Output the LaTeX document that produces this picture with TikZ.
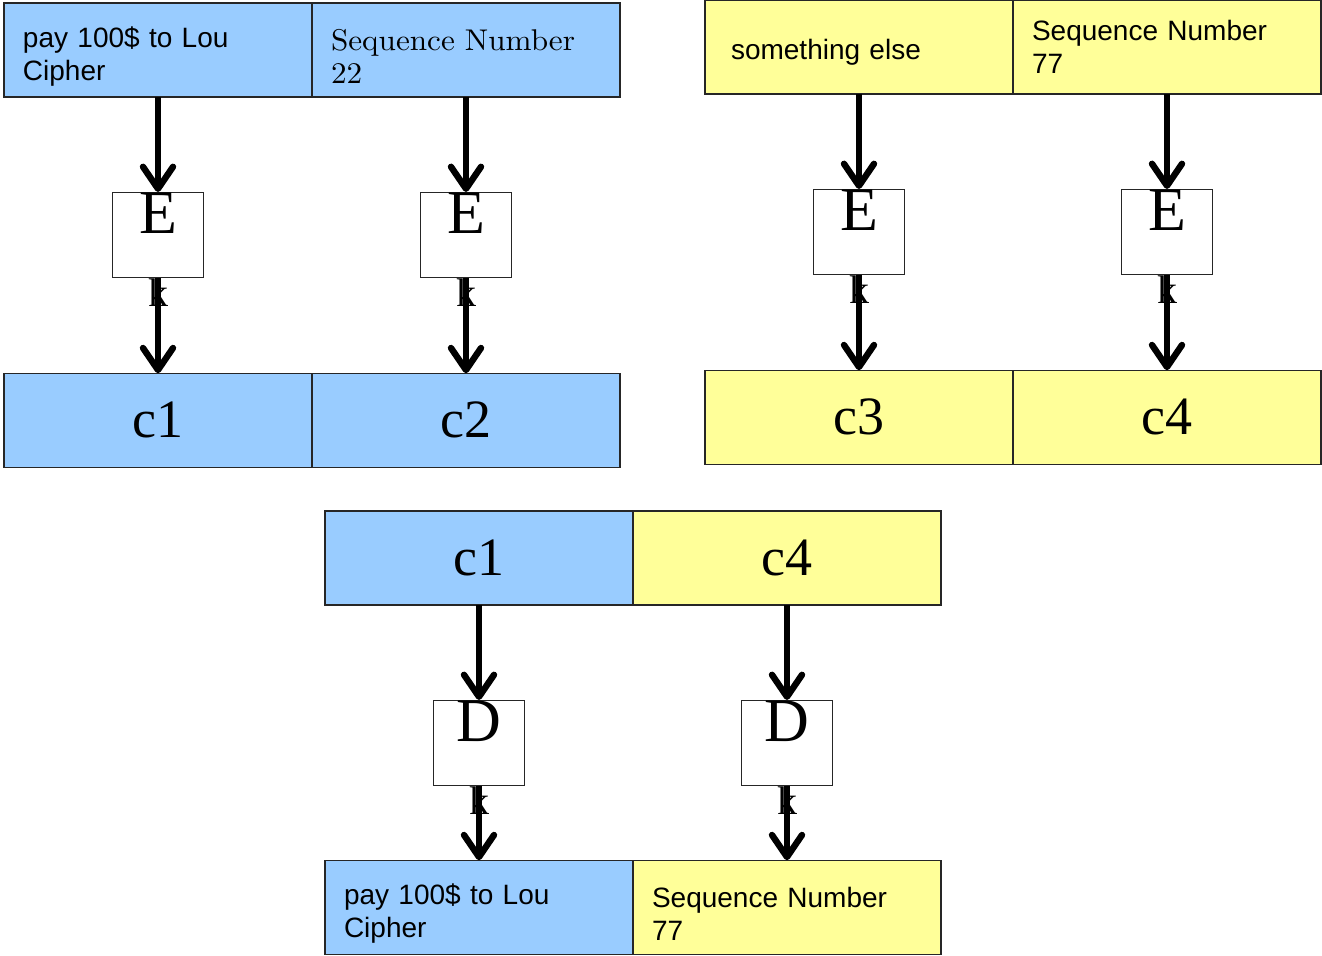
\documentclass[tikz,border=0pt]{standalone}
\usepackage{fontspec}
\setsansfont{Liberation Sans}
\newfontfamily\timesfont{Liberation Serif}
\newfontfamily\seqfont{lmroman10-regular.otf}[FakeStretch=1.04]
\usetikzlibrary{arrows.meta,positioning}

\definecolor{msgblue}{HTML}{99CCFF}
\definecolor{msgyellow}{HTML}{FFFF99}

\begin{document}
\begin{tikzpicture}[x=0.5pt, y=-0.5pt,
	cell/.style={draw=black!85, line width=0.6pt, minimum width=154pt, minimum height=47pt, inner sep=0pt, outer sep=0pt},
	txtcell/.style={cell, text width=135pt, inner xsep=9.5pt, align=left, font=\sffamily\fontsize{14}{16.5}\selectfont, execute at begin node=\rule{0pt}{#1}},
	txtcell/.default=17pt,
	ctcell/.style={cell, font=\timesfont\fontsize{27}{30}\selectfont},
	cipher/.style={draw=black!85, line width=0.6pt, fill=white, minimum width=45.5pt, inner sep=0pt, text height=20.5pt, text depth=22pt, font=\timesfont\fontsize{31}{31}\selectfont},
	keylbl/.style={font=\timesfont\fontsize{20}{20}\selectfont, inner sep=0pt, anchor=base},
	>={Straight Barb[round, length=11pt, width=15pt]}, flow/.style={->, line width=3.2pt}]
	\useasboundingbox (0,0) rectangle (1322,956);
	% encrypting the first message
	\node[txtcell, fill=msgblue, anchor=north west] (m1) at (4,3) {pay 100\$ to Lou\\Cipher};
	\node[txtcell, fill=msgblue, right=0pt of m1, font=\seqfont\fontsize{15}{16.5}\selectfont] (s1) {Sequence Number\\22};
	\node[cipher, below=47.5pt of m1] (e1) {E};
	\node[cipher, below=47.5pt of s1] (e2) {E};
	\node[ctcell, fill=msgblue, below=47.5pt of e1] (c1) {c1};
	\node[ctcell, fill=msgblue, right=0pt of c1] (c2) {c2};
	% encrypting the second message
	\node[txtcell=15.5pt, fill=msgyellow, anchor=north west, text width=128pt, inner xsep=13pt] (m2) at (705,0) {something else};
	\node[txtcell=10pt, fill=msgyellow, right=0pt of m2] (s2) {Sequence Number\\77};
	\node[cipher, below=47.5pt of m2] (e3) {E};
	\node[cipher, below=47.5pt of s2] (e4) {E};
	\node[ctcell, fill=msgyellow, below=47.5pt of e3] (c3) {c3};
	\node[ctcell, fill=msgyellow, right=0pt of c3] (c4) {c4};
	% splicing c1 and c4, then decrypting
	\node[ctcell, fill=msgblue, anchor=north west] (b1) at (325,511) {c1};
	\node[ctcell, fill=msgyellow, right=0pt of b1] (b2) {c4};
	\node[cipher, below=47.5pt of b1] (d1) {D};
	\node[cipher, below=47.5pt of b2] (d2) {D};
	\node[txtcell, fill=msgblue, below=37pt of d1] (p1) {pay 100\$ to Lou\\Cipher};
	\node[txtcell, fill=msgyellow, right=0pt of p1] (p2) {Sequence Number\\77};
	% key under every box
	\foreach \b in {e1,e2,e3,e4,d1,d2}
		\node[keylbl] (k\b) at ([yshift=-14pt]\b.south) {k};
	\foreach \a/\b in {m1/e1, e1/c1, s1/e2, e2/c2, m2/e3, e3/c3, s2/e4, e4/c4, b1/d1, d1/p1, b2/d2, d2/p2}
		\draw[flow] (\a) -- (\b);
\end{tikzpicture}
\end{document}
